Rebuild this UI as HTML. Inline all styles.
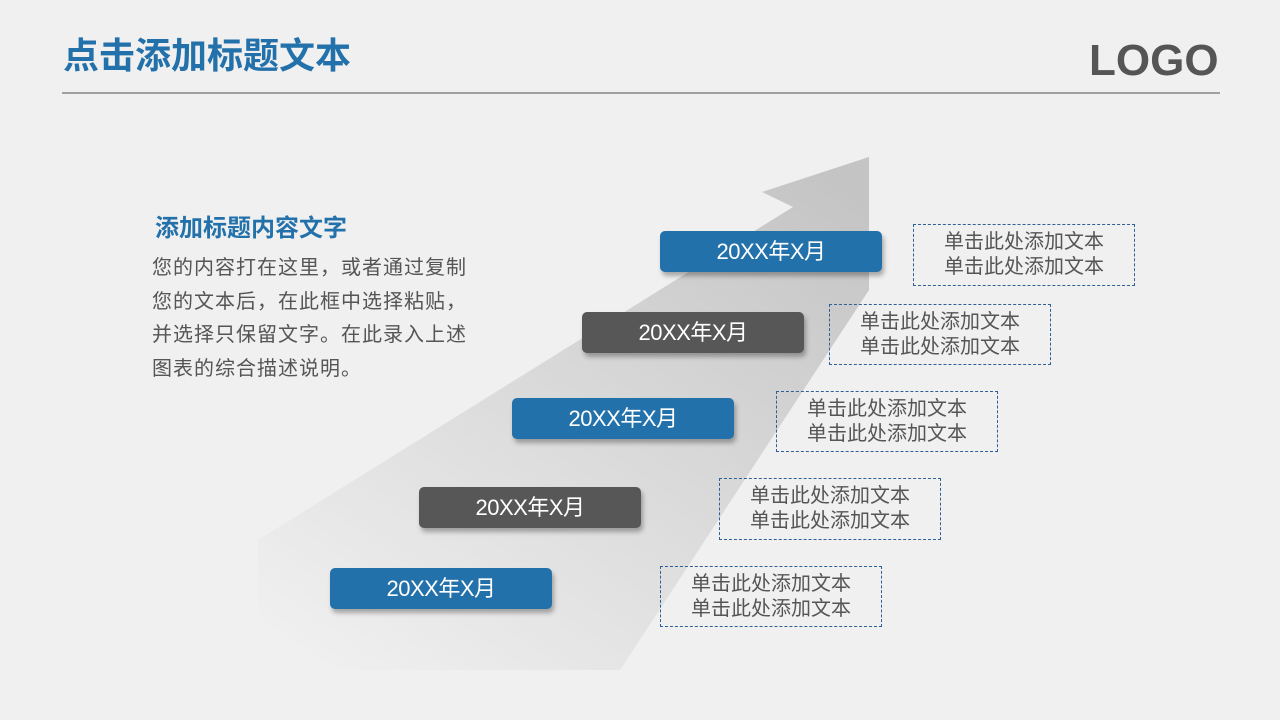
<!DOCTYPE html>
<html><head><meta charset="utf-8"><style>
body{margin:0;width:1280px;height:720px;background:#f0f0f0;position:relative;overflow:hidden;font-family:"Liberation Sans","Noto Sans CJK SC",sans-serif}
.abs{position:absolute}
.title{left:63px;top:33px;font-size:36px;font-weight:bold;color:#2371aa;line-height:46px;letter-spacing:0}
.line{left:62px;top:92px;width:1158px;height:2px;background:#a0a0a0}
.logo{left:1089px;top:36px;font-size:44px;font-weight:bold;color:#555;letter-spacing:0;line-height:50px}
.sub{left:155px;top:208px;font-size:24px;font-weight:bold;color:#2371aa;letter-spacing:0}
.body{left:152px;top:252px;width:340px;font-size:20px;color:#555;line-height:33.5px;letter-spacing:1px;white-space:nowrap}
.btn{position:absolute;width:222px;height:41px;border-radius:5px;color:#fff;font-size:22px;text-align:center;line-height:41px;box-shadow:2px 4px 5px rgba(0,0,0,.3);letter-spacing:-0.5px}
.b{background:#2371aa}.g{background:#575757}
.tb{position:absolute;width:220px;height:60px;border:1px dashed #2f5f96;color:#555;font-size:20px;line-height:25px;text-align:center;box-sizing:border-box;padding-top:5px}
</style></head><body>
<svg class="abs" style="left:0;top:0" width="1280" height="720">
<defs><linearGradient id="gr" x1="0.9" y1="0" x2="0.1" y2="1">
<stop offset="0" stop-color="#c4c4c4"/><stop offset="0.45" stop-color="#d8d8d8"/><stop offset="1" stop-color="#f0f0f0"/></linearGradient></defs>
<polygon points="869,157 869,290 620,670 258,670 258,540 793,207 762,192" fill="url(#gr)"/>
</svg>
<div class="abs title">点击添加标题文本</div>
<div class="abs line"></div>
<div class="abs logo">LOGO</div>
<div class="abs sub">添加标题内容文字</div>
<div class="abs body">您的内容打在这里，或者通过复制<br>您的文本后，在此框中选择粘贴，<br>并选择只保留文字。在此录入上述<br>图表的综合描述说明。</div>
<div class="btn b" style="left:660px;top:231px">20XX年X月</div>
<div class="btn g" style="left:582px;top:312px">20XX年X月</div>
<div class="btn b" style="left:512px;top:398px">20XX年X月</div>
<div class="btn g" style="left:419px;top:487px">20XX年X月</div>
<div class="btn b" style="left:330px;top:568px">20XX年X月</div>
<div class="tb" style="left:913px;top:224px;width:222px;height:62px">单击此处添加文本<br>单击此处添加文本</div>
<div class="tb" style="left:829px;top:304px;width:222px;height:61px">单击此处添加文本<br>单击此处添加文本</div>
<div class="tb" style="left:776px;top:391px;width:222px;height:61px">单击此处添加文本<br>单击此处添加文本</div>
<div class="tb" style="left:719px;top:478px;width:222px;height:62px">单击此处添加文本<br>单击此处添加文本</div>
<div class="tb" style="left:660px;top:566px;width:222px;height:61px">单击此处添加文本<br>单击此处添加文本</div>
</body></html>
